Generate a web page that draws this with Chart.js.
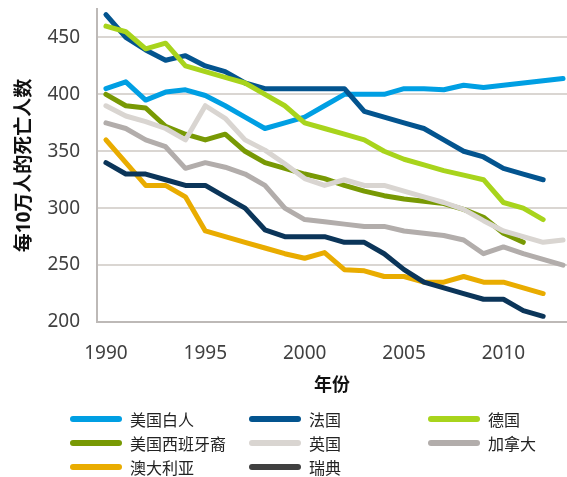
<!DOCTYPE html>
<html lang="zh">
<head>
  <meta charset="UTF-8">
  <title>每10万人的死亡人数</title>
  <script src="https://cdn.jsdelivr.net/npm/chart.js"></script>
  <style>
    body { margin: 0; background: #fff; font-family: "Noto Sans", "Noto Sans CJK SC", sans-serif; }
    #wrap { position: relative; width: 567px; height: 477px; }
    #box { position: absolute; left: 0; top: 0; width: 567px; height: 400px; }
    #legend { position: absolute; left: 0; top: 0; width: 567px; height: 477px; pointer-events: none; }
    .item { position: absolute; display: flex; align-items: center; height: 22px; font-size: 16px; color: #222; }
    .sw { width: 52px; height: 6px; border-radius: 3px; margin-right: 8px; }
  </style>
</head>
<body>
  <div id="wrap">
    <div id="box"><canvas id="chart"></canvas></div>
    <div id="legend"></div>
  </div>

  <script>
    const years = [1990, 1991, 1992, 1993, 1994, 1995, 1996, 1997, 1998, 1999, 2000, 2001,
                   2002, 2003, 2004, 2005, 2006, 2007, 2008, 2009, 2010, 2011, 2012, 2013];
    const xTicks = [1990, 1995, 2000, 2005, 2010];
    const yTicks = [200, 250, 300, 350, 400, 450];

    const names = ['美国白人', '法国', '德国', '美国西班牙裔', '英国', '加拿大', '澳大利亚', '瑞典'];
    const usWhite    = [405, 411, 395, 402, 404, 399, 390, 380, 370, 375, 380, 390, 400, 400, 400, 405, 405, 404, 408, 406, 408, 410, 412, 414];
    const france     = [470, 450, 439, 430, 434, 425, 420, 410, 405, 405, 405, 405, 405, 385, 380, 375, 370, 360, 350, 345, 335, 330, 325, null];
    const germany    = [460, 455, 440, 445, 425, 420, 415, 410, 400, 390, 375, 370, 365, 360, 350, 343, 338, 333, 329, 325, 305, 300, 290, null];
    const usHispanic = [400, 390, 388, 372, 365, 360, 365, 350, 340, 335, 330, 326, 320, 315, 311, 308, 306, 304, 299, 292, 278, 270, null, null];
    const uk         = [390, 381, 376, 370, 360, 390, 379, 360, 351, 339, 326, 320, 325, 320, 320, 315, 310, 305, 299, 289, 280, 275, 270, 272];
    const canada     = [375, 370, 360, 354, 335, 340, 336, 330, 320, 300, 290, 288, 286, 284, 284, 280, 278, 276, 272, 260, 266, 260, 255, 250];
    const australia  = [360, 340, 320, 320, 310, 280, 275, 270, 265, 260, 256, 261, 246, 245, 240, 240, 235, 235, 240, 235, 235, 230, 225, null];
    const sweden     = [340, 330, 330, 325, 320, 320, 310, 300, 281, 275, 275, 275, 270, 270, 260, 246, 235, 230, 225, 220, 220, 210, 205, null];

    const series = [usWhite, france, germany, usHispanic, uk, canada, australia, sweden];
    const lineColors = ['#009fe3', '#03548f', '#a8d41c', '#789904', '#d9d5d1', '#b2adab', '#e9ac00', '#0b3559'];
    const legendColors = ['#009fe3', '#03548f', '#a8d41c', '#789904', '#d9d5d1', '#b2adab', '#e9ac00', '#404040'];

    Chart.defaults.font.family = '"Noto Sans", "Noto Sans CJK SC", sans-serif';

    const datasets = series.map((vals, i) => ({
      label: names[i],
      data: vals.map((v, j) => ({ x: years[j], y: v })),
      borderColor: lineColors[i],
      backgroundColor: lineColors[i],
      borderWidth: 5,
      borderCapStyle: 'round',
      borderJoinStyle: 'round',
      pointRadius: 0,
      tension: 0,
      order: series.length - i
    }));

    new Chart(document.getElementById('chart'), {
      type: 'line',
      data: { datasets },
      options: {
        responsive: true,
        maintainAspectRatio: false,
        animation: false,
        layout: { padding: { left: 0, right: 0, top: 9, bottom: 0 } },
        plugins: { legend: { display: false }, tooltip: { enabled: false } },
        scales: {
          x: {
            type: 'linear',
            min: 1989.55,
            max: 2013.2,
            afterBuildTicks: s => { s.ticks = xTicks.map(v => ({ value: v })); },
            afterFit: s => { s.height = 78; s.paddingLeft = 0; s.paddingRight = 0; },
            grid: { display: false },
            border: { display: true, color: '#bdb9b7', width: 2 },
            ticks: { callback: v => String(v), color: '#404040', font: { size: 19 }, padding: 12, maxRotation: 0 },
            title: { display: true, text: '年份', color: '#111', font: { size: 18, weight: 'bold' }, padding: { top: 0, bottom: 3 } }
          },
          y: {
            min: 200,
            max: 475,
            afterBuildTicks: s => { s.ticks = yTicks.map(v => ({ value: v })); },
            afterFit: s => { s.width = 97; s.paddingTop = 0; s.paddingBottom = 0; },
            grid: { color: '#dad6d2', lineWidth: 2, drawTicks: false },
            border: { display: true, color: '#bdb9b7', width: 2 },
            ticks: { color: '#404040', font: { size: 19 }, padding: 17 },
            title: { display: true, text: '每10万人的死亡人数', color: '#111', font: { size: 19, weight: 'bold' }, padding: { top: 13, bottom: 0 } }
          }
        }
      }
    });

    // legend in three columns like the original
    const colX = [70, 249, 428];
    const rowY = [408, 432, 456];
    const legend = document.getElementById('legend');
    names.forEach((n, i) => {
      const el = document.createElement('div');
      el.className = 'item';
      el.style.left = colX[i % 3] + 'px';
      el.style.top = rowY[Math.floor(i / 3)] + 'px';
      el.innerHTML = '<span class="sw" style="background:' + legendColors[i] + '"></span><span>' + n + '</span>';
      legend.appendChild(el);
    });
  </script>
</body>
</html>
